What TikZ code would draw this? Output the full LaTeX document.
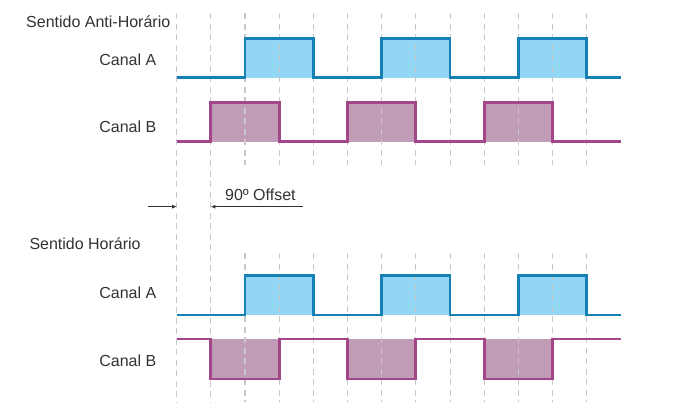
\documentclass[tikz,border=0pt]{standalone}
\usepackage{fontspec}
\setmainfont{Liberation Sans}
\usetikzlibrary{arrows.meta}
\definecolor{chanA}{RGB}{20,128,182}
\definecolor{chanAfill}{RGB}{146,214,244}
\definecolor{chanB}{RGB}{164,70,138}
\definecolor{chanBfill}{RGB}{193,156,182}
\definecolor{txtgray}{RGB}{50,50,50}
\definecolor{gridgray}{RGB}{200,200,200}

\begin{document}
\begin{tikzpicture}[x=1pt,y=-1pt,font=\fontsize{16}{19}\selectfont,text=txtgray]
\useasboundingbox (0,0) rectangle (686,418);
\tikzset{lbl/.style={inner sep=0pt}}
\tikzset{gridline/.style={gridgray,line width=1.1pt,dash pattern=on 6pt off 4.5pt}}
\tikzset{sigA/.style={chanA,line width=2.8pt}}
\tikzset{sigB/.style={chanB,line width=2.8pt}}
\tikzset{offarrow/.style={-{Latex[length=4.5pt,width=4pt]},txtgray,line width=0.8pt}}
% labels
\node[lbl,anchor=base west] (ccw) at (26,27) {Sentido Anti-Horário};
\node[lbl,anchor=base east] (ccwA) at (156.5,65) {Canal A};
\node[lbl,anchor=base east] (ccwB) at (156.5,132.7) {Canal B};
\node[lbl,anchor=base west] (cw) at (29.3,249.3) {Sentido Horário};
\node[lbl,anchor=base east] (cwA) at (156.5,298.3) {Canal A};
\node[lbl,anchor=base east] (cwB) at (156.5,366.7) {Canal B};
% one unit of x = one quarter period
\begin{scope}[xshift=176.7pt,x=34.17pt]
% fills
\foreach \k in {2,6,10} {
  \fill[chanAfill] (\k,38.3) rectangle (\k+2,77.7);
  \fill[chanAfill] (\k,275.7) rectangle (\k+2,315);
}
\foreach \k in {1,5,9} {
  \fill[chanBfill] (\k,102.7) rectangle (\k+2,141.7);
  \fill[chanBfill] (\k,339) rectangle (\k+2,379);
}
% grid
\foreach \k in {0,1}
  \draw[gridline] (\k,13) -- (\k,402);
\foreach \k in {2,...,12} {
  \draw[gridline] (\k,13) -- (\k,165);
  \draw[gridline] (\k,253) -- (\k,402);
}
% Sentido Anti-Horario
\draw[sigA] (0,77.7) -- (2,77.7) |- (4,38.3) |- (6,77.7) |- (8,38.3) |- (10,77.7) |- (12,38.3) |- (13,77.7);
\draw[sigB] (0,141.7) -- (1,141.7) |- (3,102.7) |- (5,141.7) |- (7,102.7) |- (9,141.7) |- (11,102.7) |- (13,141.7);
% Sentido Horario
\draw[sigA] (0,315) -- (2,315) |- (4,275.7) |- (6,315) |- (8,275.7) |- (10,315) |- (12,275.7) |- (13,315);
\draw[sigB] (0,339) -- (1,339) |- (3,379) |- (5,339) |- (7,379) |- (9,339) |- (11,379) |- (13,339);
% offset
\coordinate (inL) at (-0.84,206.7);
\coordinate (edgeA) at (0,206.7);
\coordinate (edgeB) at (1,206.7);
\coordinate (inR) at (3.70,206.7);
\draw[offarrow] (inL) -- (edgeA);
\draw[offarrow] (inR) -- (edgeB);
\node[lbl,anchor=base] (offtxt) at (2.45,200.5) {90º Offset};
\end{scope}
\end{tikzpicture}
\end{document}
